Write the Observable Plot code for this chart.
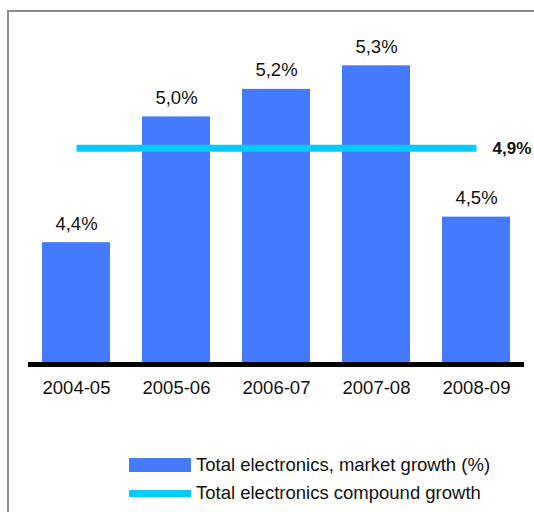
<!DOCTYPE html>
<html>
<head>
<meta charset="utf-8">
<script src="https://cdn.jsdelivr.net/npm/d3@7"></script>
<script src="https://cdn.jsdelivr.net/npm/@observablehq/plot@0.6"></script>
<style>
  html, body { margin: 0; padding: 0; background: #fff; overflow: hidden; }
  #wrap { position: relative; width: 534px; height: 512px; overflow: hidden; font-family: "Liberation Sans", Arial, sans-serif; }
  #frame { position: absolute; left: 7px; top: 10px; width: 600px; height: 600px; border-left: 2px solid #8e8e8e; border-top: 2px solid #8e8e8e; box-sizing: border-box; }
  #chart { position: absolute; left: 0; top: 0; }
  #legend { position: absolute; left: 129px; top: 451px; font-size: 18.5px; color: #111; }
  .row { display: flex; align-items: center; height: 28px; }
  .sw { width: 62px; margin-right: 5px; }
</style>
</head>
<body>
<div id="wrap">
  <div id="frame"></div>
  <div id="chart"></div>
  <div id="legend"></div>
</div>
<script>
const categories = ["2004-05", "2005-06", "2006-07", "2007-08", "2008-09"];
const growth = [4.40, 5.04, 5.18, 5.30, 4.53];
const growthLabels = ["4,4%", "5,0%", "5,2%", "5,3%", "4,5%"];
const compound = 4.88;
const compoundLabel = "4,9%";
const seriesNames = ["Total electronics, market growth (%)", "Total electronics compound growth"];
const yMin = 3.78, yMax = 5.5;

const barColor = "#447aff";
const lineColor = "#00ccff";

const bars = categories.map((c, i) => ({c, v: growth[i], label: growthLabels[i]}));
const comp = categories.map(c => ({c, v: compound}));

const chart = Plot.plot({
  width: 534,
  height: 420,
  marginLeft: 26,
  marginRight: 8,
  marginTop: 26,
  marginBottom: 56,
  x: {domain: categories, paddingInner: 0.32, paddingOuter: 0.16},
  y: {domain: [yMin, yMax], axis: null},
  style: {fontFamily: "'Liberation Sans', Arial, sans-serif", fontSize: "18.5px", background: "transparent", color: "#111", overflow: "visible"},
  marks: [
    Plot.barY(bars, {x: "c", y1: () => yMin, y2: "v", fill: barColor}),
    Plot.lineY(comp, {x: "c", y: "v", stroke: lineColor, strokeWidth: 7, strokeLinecap: "butt"}),
    Plot.text(bars, {x: "c", y: "v", text: "label", dy: -19, fontSize: 18.5, fill: "#111"}),
    Plot.text([comp[comp.length - 1]], {x: "c", y: "v", text: () => compoundLabel, dx: 16, textAnchor: "start", fontWeight: "bold", fontSize: 17, fill: "#111"}),
    Plot.ruleY([yMin], {stroke: "#000", strokeWidth: 5, insetLeft: 2, insetRight: 2}),
    Plot.axisX({tickSize: 0, tickPadding: 16, fontSize: 18.5, label: null, fill: "#111"})
  ]
});
document.getElementById("chart").appendChild(chart);

const legend = document.getElementById("legend");
const swatches = [{color: barColor, h: 14}, {color: lineColor, h: 7}];
seriesNames.forEach((name, i) => {
  const row = document.createElement("div");
  row.className = "row";
  const sw = document.createElement("div");
  sw.className = "sw";
  sw.style.background = swatches[i].color;
  sw.style.height = swatches[i].h + "px";
  const t = document.createElement("span");
  t.textContent = name;
  row.appendChild(sw);
  row.appendChild(t);
  legend.appendChild(row);
});
</script>
</body>
</html>
